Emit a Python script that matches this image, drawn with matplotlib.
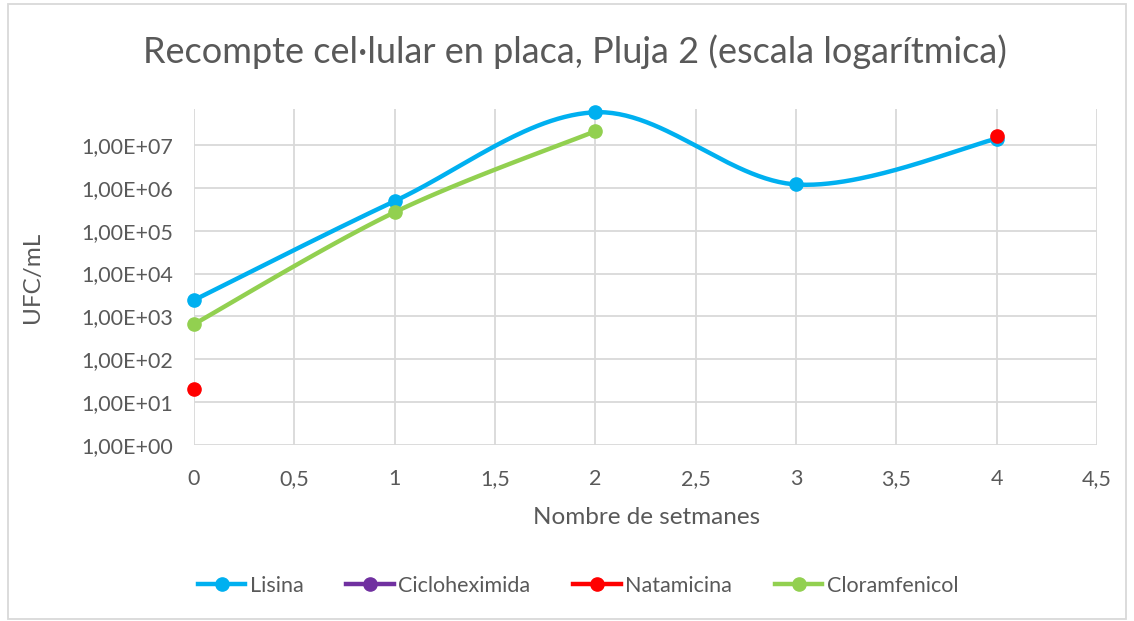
import numpy as np
import matplotlib
matplotlib.use("Agg")
import matplotlib.pyplot as plt
from matplotlib.ticker import FixedLocator, FuncFormatter
from matplotlib.patches import Rectangle
from matplotlib.lines import Line2D

plt.rcParams['font.family'] = ['Lato', 'DejaVu Sans']

# ---- data ----
lisina_x = [0, 1, 2, 3, 4]
lisina_y = [2.4e3, 4.9e5, 5.8e7, 1.2e6, 1.4e7]
cicloheximida_x = []
cicloheximida_y = []
natamicina_x = [0, 4]
natamicina_y = [20, 1.6e7]
cloramfenicol_x = [0, 1, 2]
cloramfenicol_y = [6.6e2, 2.7e5, 2.1e7]
x_ticks = [0, 0.5, 1, 1.5, 2, 2.5, 3, 3.5, 4, 4.5]
y_ticks = [1e0, 1e1, 1e2, 1e3, 1e4, 1e5, 1e6, 1e7]

title = "Recompte cel·lular en placa, Pluja 2 (escala logarítmica)"
xlabel = "Nombre de setmanes"
ylabel = "UFC/mL"
legend_labels = ["Lisina", "Cicloheximida", "Natamicina", "Cloramfenicol"]

c_lis = "#00B0F0"
c_cic = "#7030A0"
c_nat = "#FF0000"
c_clo = "#92D050"
txt = "#595959"
grid = "#D9D9D9"


def smooth(xs, ys, n=60):
    """Excel-like smoothed line: Catmull-Rom Bezier in (x, log10 y) space."""
    P = np.column_stack([np.asarray(xs, float), np.log10(ys)])
    out = []
    for i in range(len(P) - 1):
        p0 = P[i - 1] if i > 0 else P[i]
        p1, p2 = P[i], P[i + 1]
        p3 = P[i + 2] if i + 2 < len(P) else P[i + 1]
        c1 = p1 + (p2 - p0) / 6.0
        c2 = p2 - (p3 - p1) / 6.0
        t = np.linspace(0, 1, n)[:, None]
        seg = ((1 - t) ** 3) * p1 + 3 * ((1 - t) ** 2) * t * c1 + 3 * (1 - t) * t ** 2 * c2 + t ** 3 * p2
        out.append(seg if i == 0 else seg[1:])
    S = np.vstack(out)
    return S[:, 0], 10 ** S[:, 1]


W, H = 1134, 621
fig = plt.figure(figsize=(W / 100, H / 100), dpi=100)
ax = fig.add_axes([194 / W, 1 - 445 / H, (1097 - 194) / W, (445 - 109) / H])

ax.set_yscale('log')
ax.set_xlim(0, 4.5)
ax.set_ylim(1e0, 10 ** 7.84)

lw = 3.2
ms = 9.5
sx, sy = smooth(lisina_x, lisina_y)
ax.plot(sx, sy, color=c_lis, lw=lw, zorder=3, solid_capstyle='round', clip_on=False)
ax.plot(lisina_x, lisina_y, 'o', color=c_lis, ms=ms, zorder=4, clip_on=False)

ax.plot(cicloheximida_x, cicloheximida_y, '-o', color=c_cic, lw=lw, ms=ms)

gx, gy = smooth(cloramfenicol_x, cloramfenicol_y)
ax.plot(gx, gy, color=c_clo, lw=lw, zorder=3, solid_capstyle='round', clip_on=False)
ax.plot(cloramfenicol_x, cloramfenicol_y, 'o', color=c_clo, ms=ms, zorder=4, clip_on=False)

ax.plot(natamicina_x, natamicina_y, 'o', color=c_nat, ms=ms, zorder=5, clip_on=False)

ax.xaxis.set_major_locator(FixedLocator(x_ticks))
ax.xaxis.set_major_formatter(FuncFormatter(lambda v, p: f"{v:g}".replace('.', ',')))
ax.yaxis.set_major_locator(FixedLocator(y_ticks))
ax.yaxis.set_minor_locator(FixedLocator([]))
ax.yaxis.set_major_formatter(FuncFormatter(lambda v, p: "1,00E+%02d" % int(round(np.log10(v)))))

ax.grid(True, which='major', color=grid, lw=1.3)
ax.set_axisbelow(True)
for s in ax.spines.values():
    s.set_visible(False)
ax.tick_params(length=0, labelsize=15.5, colors=txt)
ax.tick_params(axis='y', pad=15)
ax.tick_params(axis='x', pad=17)

fig.text(647 / W, 1 - 517 / H, xlabel, ha='center', va='center', fontsize=17.5, color=txt)
fig.text(32 / W, 1 - 277 / H, ylabel, ha='center', va='center', rotation=90, fontsize=17.5, color=txt)
fig.text(575 / W, 1 - 52 / H, title, ha='center', va='center', fontsize=26, color=txt)

handles = [Line2D([], [], color=c, lw=lw, marker='o', ms=ms) for c in (c_lis, c_cic, c_nat, c_clo)]
fig.legend(handles, legend_labels,
           loc='center', bbox_to_anchor=(578 / W, 1 - 586 / H), ncol=4, frameon=False,
           fontsize=15.5, labelcolor=txt, handlelength=2.2, handletextpad=0.2, columnspacing=2.0)

fig.patches.append(Rectangle((8 / W, 2 / H), (1126 - 8) / W, (617 - 2) / H,
                             transform=fig.transFigure, fill=False, ec=grid, lw=1.3))

fig.savefig("out.png", dpi=100)
